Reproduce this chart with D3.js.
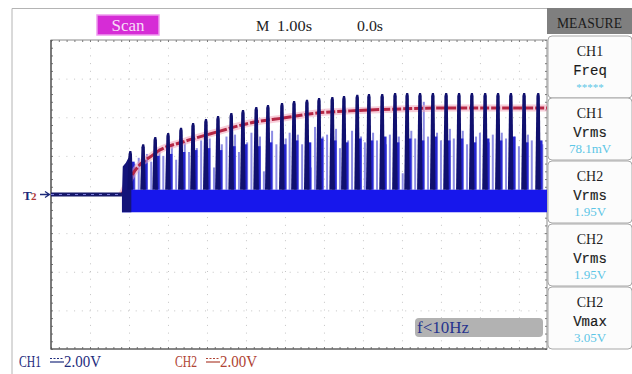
<!DOCTYPE html>
<html>
<head>
<meta charset="utf-8">
<script src="https://cdn.jsdelivr.net/npm/d3@7"></script>
<style>
  body { margin: 0; background: #fff; }
  svg { display: block; }
  .grid line { stroke: #c4c4c4; stroke-dasharray: 1,6.7; }
  .grid path { display: none; }
  .edge path { display: none; }
  .edge line { stroke: #777; }
  .serif { font-family: "Liberation Serif", "DejaVu Serif", serif; }
  .mono { font-family: "Liberation Mono", "DejaVu Sans Mono", monospace; }
</style>
</head>
<body>
<div id="scope"></div>
<script>
// Data ////////////////////////////////////////////////////////////////////
// CH2 (red) slow rising trace, time in s, level in V
const ch2Times = [1.82, 2.03, 2.36, 2.54, 2.79, 3.38, 4.26, 5.10, 5.95, 6.82, 7.67, 8.95, 10.23, 11.51, 12.72];
const ch2Volts = [0, 0.85, 1.7, 1.94, 2.3, 2.72, 3.24, 3.7, 3.96, 4.22, 4.33, 4.43, 4.48, 4.48, 4.48];

// CH1 (blue) tall dark bursts
const ch1PeakTimes = [2.03, 2.36, 2.67, 3.00, 3.33, 3.64, 3.97, 4.28, 4.62, 4.92, 5.26, 5.56, 5.92,
  6.23, 6.56, 6.87, 7.21, 7.51, 7.85, 8.15, 8.49, 8.82, 9.13, 9.46, 9.79, 10.13, 10.46, 10.79,
  11.13, 11.46, 11.79, 12.13, 12.49];
const ch1PeakVolts = [2.25, 2.6, 2.98, 3.19, 3.45, 3.70, 3.91, 4.07, 4.22, 4.38, 4.53, 4.64, 4.74,
  4.84, 4.90, 5.00, 5.05, 5.10, 5.16, 5.21, 5.21, 5.26, 5.26, 5.26, 5.26, 5.26, 5.26, 5.26,
  5.26, 5.26, 5.26, 5.26, 5.26];
// medium blue shoulder that trails each burst
const ch1ShoulderVolts = [1.7, 1.8, 2.0, 2.1, 2.2, 2.3, 2.4, 2.3, 2.5, 2.6, 2.5, 2.7, 2.6,
  2.8, 2.7, 2.9, 2.8, 2.7, 2.9, 2.8, 3.0, 2.7, 2.9, 2.8, 3.0, 2.8, 2.9, 2.7,
  2.9, 2.8, 3.0, 2.7, 2.8];

// CH1 thin light spikes between the bursts
const ch1SpikeTimes = [2.14, 2.25, 2.46, 2.57, 2.78, 2.88, 3.10, 3.21, 3.43, 3.54, 3.74, 3.85,
  4.07, 4.18, 4.38, 4.50, 4.72, 4.82, 5.03, 5.14, 5.36, 5.46, 5.67, 5.78, 6.02, 6.12, 6.33, 6.44,
  6.66, 6.77, 6.97, 7.08, 7.31, 7.41, 7.62, 7.72, 7.95, 8.05, 8.26, 8.36, 8.59, 8.69, 8.92, 9.02,
  9.24, 9.34, 9.56, 9.67, 9.90, 10.00, 10.23, 10.33, 10.56, 10.67, 10.90, 11.00, 11.23, 11.33,
  11.56, 11.67, 11.90, 12.00, 12.23, 12.33, 12.60];
const ch1SpikeVolts = [1.6, 1.9, 2.1, 1.7, 2.4, 2.0, 2.5, 1.8, 2.7, 2.2, 2.4, 2.8,
  2.9, 1.4, 2.6, 3.0, 3.1, 2.2, 2.7, 3.2, 3.0, 1.2, 3.3, 2.6, 2.9, 3.2, 3.1, 2.6,
  1.4, 3.5, 3.0, 3.1, 3.4, 2.4, 2.8, 3.3, 3.0, 2.7, 3.2, 2.8, 2.6, 3.1, 3.0, 1.1,
  3.3, 2.9, 4.8, 3.0, 3.2, 2.8, 3.4, 2.9, 3.3, 2.6, 3.0, 3.2, 2.7, 3.1,
  3.2, 2.9, 3.0, 2.5, 3.1, 2.8, 2.6];

// start of the burst train
const ch1StartTimes = [1.82, 1.84, 1.92, 2.00, 2.06];
const ch1StartVolts = [0, 1.45, 1.65, 1.95, 2.1];
const ch1BandStart = 1.82;
const ch1BandTop = 0.25;
const ch1BandBottom = -0.92;

// Panel labels
const measureTitles = ['CH1', 'CH1', 'CH2', 'CH2', 'CH2'];
const measureKinds = ['Freq', 'Vrms', 'Vrms', 'Vrms', 'Vmax'];
const measureValues = ['*****', '78.1mV', '1.95V', '1.95V', '3.05V'];

// Layout //////////////////////////////////////////////////////////////////
const W = 632, H = 374;
const plot = {left: 51, right: 547, top: 40, bottom: 349};

const svg = d3.select('#scope').append('svg')
  .attr('width', W).attr('height', H);

const x = d3.scaleLinear().domain([0, 12.72]).range([plot.left, plot.right]);
const y = d3.scaleLinear().domain([-8, 8]).range([plot.bottom, plot.top]);

// outer frame
svg.append('path')
  .attr('d', `M12,${H} V8.5 H${plot.right}`)
  .attr('fill', 'none').attr('stroke', '#b4b4b4');

// Grid ////////////////////////////////////////////////////////////////////
svg.append('g').attr('class', 'grid')
  .attr('transform', `translate(0,${plot.bottom})`)
  .call(d3.axisBottom(x).tickValues(d3.range(1, 13)).tickSize(-(plot.bottom - plot.top)).tickFormat(''));
svg.append('g').attr('class', 'grid')
  .attr('transform', `translate(${plot.left},0)`)
  .call(d3.axisLeft(y).tickValues(d3.range(-6, 7, 2)).tickSize(-(plot.right - plot.left)).tickFormat(''));

// small ticks along the edges
const xMinor = d3.range(0, 12.72, 0.2);
const yMinor = d3.range(-8, 8.01, 0.4);
svg.append('g').attr('class', 'edge')
  .attr('transform', `translate(0,${plot.top})`)
  .call(d3.axisBottom(x).tickValues(xMinor).tickSize(2).tickFormat(''));
svg.append('g').attr('class', 'edge')
  .attr('transform', `translate(0,${plot.bottom})`)
  .call(d3.axisTop(x).tickValues(xMinor).tickSize(2).tickFormat(''));
svg.append('g').attr('class', 'edge')
  .attr('transform', `translate(${plot.left},0)`)
  .call(d3.axisRight(y).tickValues(yMinor).tickSize(2).tickFormat(''));
svg.append('g').attr('class', 'edge')
  .attr('transform', `translate(${plot.right},0)`)
  .call(d3.axisLeft(y).tickValues(yMinor).tickSize(2).tickFormat(''));

// plot border
svg.append('rect')
  .attr('x', plot.left).attr('y', plot.top)
  .attr('width', plot.right - plot.left).attr('height', plot.bottom - plot.top)
  .attr('fill', 'none').attr('stroke', '#8a8a8a');
svg.append('path')
  .attr('d', `M${plot.left},${plot.top} V${plot.bottom} H${plot.right}`)
  .attr('fill', 'none').attr('stroke', '#4a4a4a').attr('stroke-width', 1.2);

// Traces //////////////////////////////////////////////////////////////////
const traces = svg.append('g');

// light spikes
traces.selectAll('.light')
  .data(ch1SpikeTimes.map((t, i) => ({t, v: ch1SpikeVolts[i]})))
  .enter().append('line')
  .attr('class', 'light')
  .attr('x1', d => x(d.t)).attr('x2', d => x(d.t))
  .attr('y1', y(ch1BandTop)).attr('y2', d => y(d.v))
  .attr('stroke', '#8c8ce4').attr('stroke-width', 2);

// shoulders after each burst
traces.selectAll('.shoulder')
  .data(ch1PeakTimes.map((t, i) => ({t, v: ch1ShoulderVolts[i]})))
  .enter().append('rect')
  .attr('class', 'shoulder')
  .attr('x', d => x(d.t))
  .attr('width', 4.5)
  .attr('y', d => y(d.v))
  .attr('height', d => y(ch1BandTop) - y(d.v))
  .attr('fill', '#2626d4');

// dense band
traces.append('rect')
  .attr('x', x(ch1BandStart)).attr('width', x(12.72) - x(ch1BandStart))
  .attr('y', y(ch1BandTop)).attr('height', y(ch1BandBottom) - y(ch1BandTop))
  .attr('fill', '#1717ec');

// CH2 red trace
const ch2Line = d3.line().x(d => x(d.t)).y(d => y(d.v)).curve(d3.curveMonotoneX);
const ch2Data = ch2Times.map((t, i) => ({t, v: ch2Volts[i]}));
traces.append('path').datum(ch2Data)
  .attr('d', ch2Line).attr('fill', 'none')
  .attr('stroke', '#f0a6bc').attr('stroke-width', 7).attr('opacity', 0.55);
traces.append('path').datum(ch2Data)
  .attr('d', ch2Line).attr('fill', 'none')
  .attr('stroke', '#b52645').attr('stroke-width', 3).attr('stroke-dasharray', '9,2');

// start block
const startArea = d3.area()
  .x(d => x(d.t)).y0(y(ch1BandBottom)).y1(d => y(d.v));
traces.append('path')
  .datum(ch1StartTimes.map((t, i) => ({t, v: ch1StartVolts[i]})))
  .attr('d', startArea)
  .attr('fill', '#14147a');

// dark bursts
traces.selectAll('.burst')
  .data(ch1PeakTimes.map((t, i) => ({t, v: ch1PeakVolts[i]})))
  .enter().append('path')
  .attr('class', 'burst')
  .attr('d', d => {
    const cx = x(d.t), top = y(d.v), base = y(ch1BandTop);
    return `M${cx - 2.8},${base} L${cx - 1.6},${top + 3} L${cx - 0.8},${top} L${cx + 1.2},${top} L${cx + 1.8},${top + 3} L${cx + 2.8},${base} Z`;
  })
  .attr('fill', '#10106e');

// flat part before the bursts
traces.append('line')
  .attr('x1', x(0)).attr('x2', x(ch1BandStart)).attr('y1', y(0)).attr('y2', y(0))
  .attr('stroke', '#16186a').attr('stroke-width', 4);
traces.append('line')
  .attr('x1', x(0)).attr('x2', x(ch1BandStart)).attr('y1', y(0)).attr('y2', y(0))
  .attr('stroke', '#7a7ad8').attr('stroke-width', 1).attr('stroke-dasharray', '3,5');

// Top bar /////////////////////////////////////////////////////////////////
svg.append('rect')
  .attr('x', 97).attr('y', 15).attr('width', 62).attr('height', 20)
  .attr('fill', '#d62cd6').attr('stroke', '#ee9aee').attr('stroke-width', 1.5);
svg.append('text').attr('class', 'serif')
  .attr('x', 128).attr('y', 31).attr('text-anchor', 'middle')
  .attr('font-size', 17).attr('fill', '#f6dcf6').text('Scan');
svg.append('text').attr('class', 'serif')
  .attr('x', 256).attr('y', 31).attr('font-size', 15).attr('fill', '#222').text('M');
svg.append('text').attr('class', 'serif')
  .attr('x', 277).attr('y', 31).attr('font-size', 15).attr('fill', '#222')
  .attr('textLength', 35).attr('lengthAdjust', 'spacingAndGlyphs').text('1.00s');
svg.append('text').attr('class', 'serif')
  .attr('x', 357).attr('y', 31).attr('font-size', 15).attr('fill', '#222')
  .attr('textLength', 26).attr('lengthAdjust', 'spacingAndGlyphs').text('0.0s');

// Trigger marker
svg.append('text').attr('class', 'serif')
  .attr('x', 23).attr('y', 199.5).attr('font-size', 13).attr('font-weight', 'bold')
  .attr('fill', '#1c2a7a').text('T');
svg.append('text').attr('class', 'serif')
  .attr('x', 31).attr('y', 199.5).attr('font-size', 11).attr('font-weight', 'bold')
  .attr('fill', '#b03a3a').text('2');
svg.append('path')
  .attr('d', `M40,${y(0)} H49 M45,${y(0) - 3} L49.5,${y(0)} L45,${y(0) + 3}`)
  .attr('fill', 'none').attr('stroke', '#1c2a7a').attr('stroke-width', 1.3);

// Measure panel ///////////////////////////////////////////////////////////
svg.append('rect')
  .attr('x', 547).attr('y', 8).attr('width', 85).attr('height', 26)
  .attr('fill', '#7f7f7f');
svg.append('text').attr('class', 'serif')
  .attr('x', 557).attr('y', 28).attr('font-size', 14).attr('fill', '#1a1a1a')
  .attr('textLength', 65).attr('lengthAdjust', 'spacingAndGlyphs').text('MEASURE');

const boxTops = [35, 97, 160, 223, 286];
const boxH = 62;
const boxes = svg.selectAll('.mbox')
  .data(measureTitles.map((t, i) => ({title: t, kind: measureKinds[i], value: measureValues[i], top: boxTops[i]})))
  .enter().append('g').attr('class', 'mbox');
boxes.append('rect')
  .attr('x', 548).attr('y', d => d.top + 1).attr('width', 84).attr('height', boxH)
  .attr('rx', 4).attr('fill', '#fcfcfc').attr('stroke', '#a8a8a8');
boxes.append('text').attr('class', 'serif')
  .attr('x', 590).attr('y', d => d.top + 21).attr('text-anchor', 'middle')
  .attr('font-size', 14).attr('fill', '#1e1e1e').text(d => d.title);
boxes.append('text').attr('class', 'mono')
  .attr('x', 590).attr('y', d => d.top + 40).attr('text-anchor', 'middle')
  .attr('font-size', 14).attr('fill', '#1a1a1a').attr('stroke', '#1a1a1a').attr('stroke-width', 0.15)
  .text(d => d.kind);
boxes.append('text').attr('class', 'serif')
  .attr('x', 590).attr('y', 56).attr('transform', d => `translate(0,${d.top})`)
  .attr('text-anchor', 'middle')
  .attr('font-size', d => d.value === '*****' ? 11 : 13).attr('fill', '#5cc6e6')
  .text(d => d.value);

// f<10Hz badge
svg.append('rect')
  .attr('x', 415).attr('y', 318).attr('width', 128).attr('height', 19).attr('rx', 4)
  .attr('fill', '#b2b2b2');
svg.append('text').attr('class', 'serif')
  .attr('x', 417).attr('y', 333).attr('font-size', 16).attr('fill', '#27348e')
  .attr('textLength', 52).attr('lengthAdjust', 'spacingAndGlyphs').text('f<10Hz');

// Channel scales at the bottom ////////////////////////////////////////////
function channelLabel(xPos, name, value, color) {
  const g = svg.append('g').attr('fill', color);
  g.append('text').attr('class', 'serif')
    .attr('x', xPos).attr('y', 367).attr('font-size', 16)
    .attr('textLength', 22).attr('lengthAdjust', 'spacingAndGlyphs').text(name);
  g.append('line')
    .attr('x1', xPos + 31).attr('x2', xPos + 45).attr('y1', 358.5).attr('y2', 358.5)
    .attr('stroke', color).attr('stroke-width', 1.2).attr('stroke-dasharray', '2,1.5');
  g.append('line')
    .attr('x1', xPos + 31).attr('x2', xPos + 45).attr('y1', 362).attr('y2', 362)
    .attr('stroke', color).attr('stroke-width', 1.2);
  g.append('text').attr('class', 'serif')
    .attr('x', xPos + 45).attr('y', 367).attr('font-size', 16)
    .attr('textLength', 37).attr('lengthAdjust', 'spacingAndGlyphs').text(value);
}
channelLabel(19, 'CH1', '2.00V', '#1f2d7e');
channelLabel(175, 'CH2', '2.00V', '#b04434');
</script>
</body>
</html>
